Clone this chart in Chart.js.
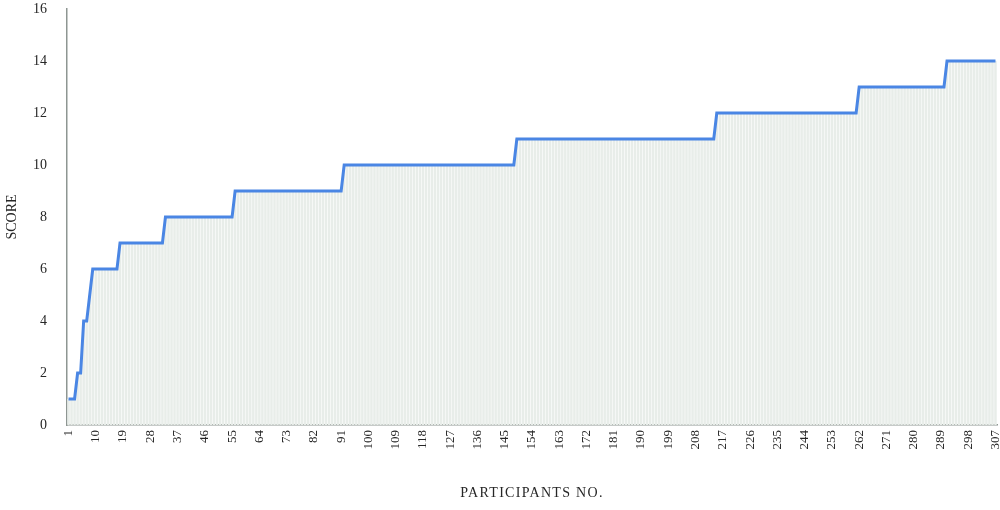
<!DOCTYPE html>
<html>
<head>
<meta charset="utf-8">
<script src="https://cdn.jsdelivr.net/npm/chart.js@4/dist/chart.umd.min.js"></script>
<style>
  html, body { margin: 0; padding: 0; background: #ffffff; }
  #wrap { width: 1000px; height: 510px; }
</style>
</head>
<body>
<div id="wrap"><canvas id="c" width="1000" height="510"></canvas></div>
<script>
// Participant numbers (categories)
const participants = Array.from({ length: 307 }, (_, i) => String(i + 1));

// Score of each participant (sorted ascending)
const scores = [
  1,1,1,2,2,4,4,5,6,6,
  6,6,6,6,6,6,6,7,7,7,
  7,7,7,7,7,7,7,7,7,7,
  7,7,8,8,8,8,8,8,8,8,
  8,8,8,8,8,8,8,8,8,8,
  8,8,8,8,8,9,9,9,9,9,
  9,9,9,9,9,9,9,9,9,9,
  9,9,9,9,9,9,9,9,9,9,
  9,9,9,9,9,9,9,9,9,9,
  9,10,10,10,10,10,10,10,10,10,
  10,10,10,10,10,10,10,10,10,10,
  10,10,10,10,10,10,10,10,10,10,
  10,10,10,10,10,10,10,10,10,10,
  10,10,10,10,10,10,10,10,10,10,
  10,10,10,10,10,10,10,10,11,11,
  11,11,11,11,11,11,11,11,11,11,
  11,11,11,11,11,11,11,11,11,11,
  11,11,11,11,11,11,11,11,11,11,
  11,11,11,11,11,11,11,11,11,11,
  11,11,11,11,11,11,11,11,11,11,
  11,11,11,11,11,11,11,11,11,11,
  11,11,11,11,12,12,12,12,12,12,
  12,12,12,12,12,12,12,12,12,12,
  12,12,12,12,12,12,12,12,12,12,
  12,12,12,12,12,12,12,12,12,12,
  12,12,12,12,12,12,12,12,12,12,
  12,13,13,13,13,13,13,13,13,13,
  13,13,13,13,13,13,13,13,13,13,
  13,13,13,13,13,13,13,13,13,13,
  14,14,14,14,14,14,14,14,14,14,
  14,14,14,14,14,14,14
];

// Tick labels shown on the x axis
const xTickLabels = ['1','10','19','28','37','46','55','64','73','82','91','100','109','118','127','136','145','154','163','172','181','190','199','208','217','226','235','244','253','262','271','280','289','298','307'];
const yTicks = [0, 2, 4, 6, 8, 10, 12, 14, 16];

const fontFamily = "'Liberation Serif', 'DejaVu Serif', serif";
const textColor = '#262626';
const axisColor = '#8e9692';

function zeroPad(s) { s.paddingTop = 0; s.paddingBottom = 0; s.paddingLeft = 0; s.paddingRight = 0; }

const chart = new Chart(document.getElementById('c'), {
  data: {
    labels: participants,
    datasets: [
      {
        type: 'line',
        data: scores,
        borderColor: '#4a86e4',
        borderWidth: 3,
        pointRadius: 0,
        tension: 0,
        fill: false,
        order: 0
      },
      {
        type: 'bar',
        data: scores,
        backgroundColor: '#e8ede9',
        borderWidth: 0,
        categoryPercentage: 1.0,
        barPercentage: 0.82,
        order: 1
      }
    ]
  },
  options: {
    responsive: false,
    animation: false,
    devicePixelRatio: 1,
    layout: { padding: { top: 9, right: 3, left: 4, bottom: 8 } },
    plugins: {
      legend: { display: false },
      tooltip: { enabled: false },
      title: { display: false }
    },
    scales: {
      x: {
        offset: true,
        afterFit: (s) => { s.height = 77; zeroPad(s); },
        grid: { display: false, drawTicks: false },
        border: { display: true, color: axisColor, width: 1.5 },
        ticks: {
          autoSkip: false,
          minRotation: 90,
          maxRotation: 90,
          padding: 5,
          color: textColor,
          font: { family: fontFamily, size: 13 },
          callback: function (value) {
            const l = this.getLabelForValue(value);
            return xTickLabels.includes(l) ? l : '';
          }
        },
        title: {
          display: true,
          text: 'PARTICIPANTS NO.',
          color: textColor,
          font: { family: fontFamily, size: 14 },
          padding: { top: 0, bottom: 0 }
        }
      },
      y: {
        min: 0,
        max: 16,
        afterBuildTicks: (scale) => { scale.ticks = yTicks.map(v => ({ value: v })); },
        afterFit: (s) => { s.width = 63; zeroPad(s); },
        grid: { display: false, drawTicks: false },
        border: { display: true, color: axisColor, width: 1.5 },
        ticks: {
          padding: 20,
          color: textColor,
          font: { family: fontFamily, size: 14 }
        },
        title: {
          display: true,
          text: 'SCORE',
          color: textColor,
          font: { family: fontFamily, size: 14 },
          padding: { top: 0, bottom: 0 }
        }
      }
    }
  }
});

// Wider letter spacing for the x-axis title, as in the reference
const xs = chart.scales.x;
const origDrawTitle = xs.drawTitle.bind(xs);
xs.drawTitle = function () {
  const ctx = chart.ctx;
  ctx.save();
  ctx.letterSpacing = '1.3px';
  origDrawTitle();
  ctx.restore();
};
chart.draw();
</script>
</body>
</html>
